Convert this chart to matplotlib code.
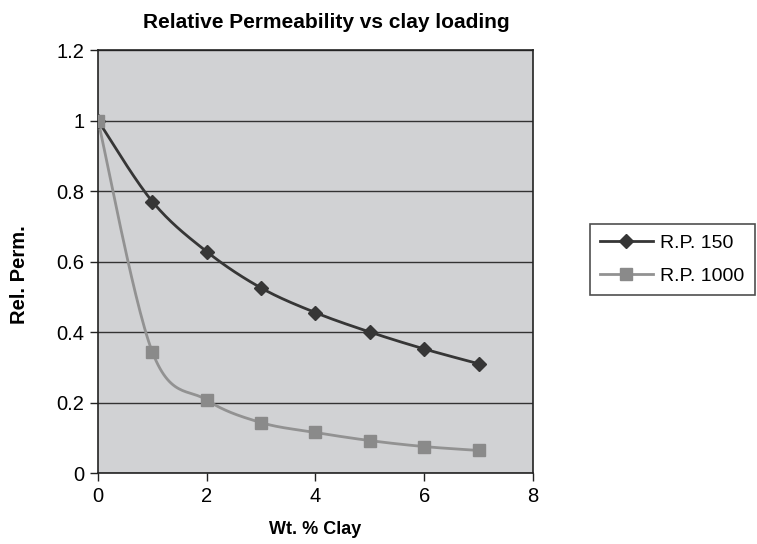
import numpy as np
import matplotlib.pyplot as plt

plt.rcParams['font.family'] = ['Liberation Sans', 'DejaVu Sans']

clay = [0, 1, 2, 3, 4, 5, 6, 7]
rp150 = [1.0, 0.77, 0.628, 0.525, 0.455, 0.40, 0.352, 0.31]
rp1000 = [1.0, 0.343, 0.207, 0.143, 0.115, 0.092, 0.075, 0.064]


def smooth(x, y, n=30):
    # cubic bezier through the points, catmull-rom style tangents
    x = np.asarray(x, float)
    y = np.asarray(y, float)
    xs, ys = [], []
    for i in range(len(x) - 1):
        p0 = np.array([x[max(i - 1, 0)], y[max(i - 1, 0)]])
        p1 = np.array([x[i], y[i]])
        p2 = np.array([x[i + 1], y[i + 1]])
        p3 = np.array([x[min(i + 2, len(x) - 1)], y[min(i + 2, len(x) - 1)]])
        c1 = p1 + (p2 - p0) / 6
        c2 = p2 - (p3 - p1) / 6
        t = np.linspace(0, 1, n)[:, None]
        pts = ((1 - t) ** 3) * p1 + 3 * ((1 - t) ** 2) * t * c1 + 3 * (1 - t) * t ** 2 * c2 + t ** 3 * p2
        xs.extend(pts[:, 0])
        ys.extend(pts[:, 1])
    return xs, ys


fig = plt.figure(figsize=(7.57, 5.44), dpi=100)
ax = fig.add_axes([0.1295, 0.1305, 0.5745, 0.7775])
ax.set_facecolor('#d1d2d4')

c150 = '#363636'
c1000 = '#929292'

sx, sy = smooth(clay, rp150)
ax.plot(sx, sy, color=c150, lw=2, zorder=3)
ax.plot(clay, rp150, ls='none', marker='D', ms=7, color=c150, zorder=4)
sx, sy = smooth(clay, rp1000)
ax.plot(sx, sy, color=c1000, lw=2, zorder=3)
ax.plot(clay, rp1000, ls='none', marker='s', ms=9, color='#8a8a8a', zorder=4)

# legend handles
ax.plot([], [], color=c150, lw=2, marker='D', ms=7, label='R.P. 150')
ax.plot([], [], color=c1000, lw=2, marker='s', ms=9, mfc='#8a8a8a', mec='#8a8a8a', label='R.P. 1000')

ax.set_xlim(0, 8)
ax.set_ylim(0, 1.2)
ax.set_xticks([0, 2, 4, 6, 8])
ax.set_yticks([0, 0.2, 0.4, 0.6, 0.8, 1.0, 1.2])
ax.set_yticklabels(['0', '0.2', '0.4', '0.6', '0.8', '1', '1.2'])
ax.tick_params(direction='out', length=6, width=1, labelsize=14.5, color='#222222', pad=4)
ax.yaxis.grid(True, color='#333333', lw=1)
ax.set_axisbelow(True)
for s in ax.spines.values():
    s.set_color('#222222')
    s.set_linewidth(1.2)

ax.set_title('Relative Permeability vs clay loading', fontsize=15, fontweight='bold', pad=16, x=0.526)
ax.set_xlabel('Wt. % Clay', fontsize=13, fontweight='bold', labelpad=11)
ax.set_ylabel('Rel. Perm.', fontsize=14.5, fontweight='bold')
ax.yaxis.set_label_coords(-0.159, 0.468)

leg = ax.legend(loc='upper left', bbox_to_anchor=(590 / 757, 1 - 224 / 544),
                bbox_transform=fig.transFigure, borderaxespad=0, fontsize=14,
                frameon=True, fancybox=False, edgecolor='#222222', handlelength=2.7,
                borderpad=0.52, labelspacing=0.8, handletextpad=0.4)
leg.get_frame().set_linewidth(1.2)

fig.savefig('out.png', dpi=100, facecolor='white')
